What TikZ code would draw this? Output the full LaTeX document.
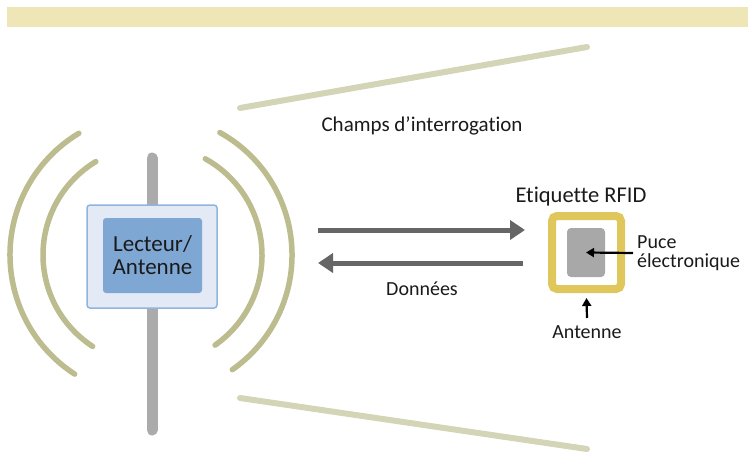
\documentclass[tikz,border=0pt]{standalone}
\usepackage{fontspec}
\setmainfont[Ligatures={NoCommon}]{Carlito}
\usetikzlibrary{arrows.meta}
\definecolor{bandc}{HTML}{EEE6B7}
\definecolor{fieldc}{HTML}{D4D4B7}
\definecolor{wavec}{HTML}{BCBC8F}
\definecolor{polec}{HTML}{ABABAB}
\definecolor{boxfill}{HTML}{E3E9F5}
\definecolor{boxdraw}{HTML}{8FB4E0}
\definecolor{innerfill}{HTML}{7FA7D4}
\definecolor{arrc}{HTML}{666666}
\definecolor{tagc}{HTML}{E0C75C}
\definecolor{chipc}{HTML}{A8A8A8}
\definecolor{txtc}{HTML}{1A1A1A}
\tikzset{
  fieldline/.style={draw=fieldc, line width=6pt, line cap=round},
  wave/.style={draw=wavec, line width=5.5pt, line cap=round},
  bigarrow/.style={draw=arrc, line width=5pt, -{Triangle[length=15pt,width=19pt]}},
  smallarrow/.style={draw=black, line width=2.2pt, -{Triangle[length=8pt,width=9pt]}},
  lbl/.style={text=txtc, inner sep=0pt},
}
\begin{document}
\begin{tikzpicture}[x=1pt,y=-1pt]
\useasboundingbox (0,0) rectangle (748,452);
% top band
\fill[bandc] (7,7) rectangle (748,27);
% field lines
\coordinate (f1a) at (240,108);
\coordinate (f1b) at (587,47);
\coordinate (f2a) at (240,398);
\coordinate (f2b) at (587,449);
\draw[fieldline] (f1a) -- (f1b);
\draw[fieldline] (f2a) -- (f2b);
% waves
\coordinate (c) at (152,255);
\draw[wave] (c) ++(-61:110) arc[start angle=-61, end angle=55, radius=110];
\draw[wave] (c) ++(-61:140) arc[start angle=-61, end angle=55, radius=140];
\draw[wave] (c) ++(123:109) arc[start angle=123, end angle=239, radius=109];
\draw[wave] (c) ++(123:142) arc[start angle=123, end angle=239, radius=142];
% pole
\coordinate (pt) at (152,158);
\coordinate (pb) at (152,430);
\draw[draw=polec, line width=11pt, line cap=round] (pt) -- (pb);
% reader
\node[draw=boxdraw, fill=boxfill, line width=1.5pt, rounded corners=3pt,
      minimum width=130pt, minimum height=103pt, inner sep=0pt] (reader) at (152,256.5) {};
\node[fill=innerfill, rounded corners=3pt, minimum width=99pt, minimum height=75pt,
      inner sep=0pt, align=center, text=txtc, font=\fontsize{23}{23}\selectfont] (inner) at (152.5,255.5) {Lecteur/\\Antenne};
% tag
\node[draw=tagc, line width=8pt, rounded corners=5pt, minimum width=69pt, minimum height=73pt, inner sep=0pt] (tag) at (586.5,252.5) {};
\node[fill=chipc, rounded corners=4pt, minimum width=38pt, minimum height=49pt, inner sep=0pt] (chip) at (586,252.5) {};
% labels
\node[lbl, anchor=base, font=\fontsize{21}{21}\selectfont] (champs) at (422,131.5) {Champs d’interrogation};
\node[lbl, anchor=base, font=\fontsize{20}{20}\selectfont] (donnees) at (422,295) {Données};
\node[lbl, anchor=base, font=\fontsize{22.5}{22.5}\selectfont] (etiq) at (581,202) {Etiquette RFID};
\node[lbl, anchor=base, font=\fontsize{20}{20}\selectfont] (ant) at (587,338) {Antenne};
\node[lbl, anchor=west, align=left, font=\fontsize{20}{18.5}\selectfont] (puce) at (637,253) {Puce\\électronique};
% big arrows
\coordinate (a1s) at (318,230);
\coordinate (a1e) at (525,230);
\coordinate (a2s) at (523,263);
\coordinate (a2e) at (318,263);
\draw[bigarrow] (a1s) -- (a1e);
\draw[bigarrow] (a2s) -- (a2e);
% small arrows
\coordinate (pucearr) at (633,253);
\coordinate (antarr) at (587,318);
\draw[smallarrow] (pucearr) -- (chip.center);
\draw[smallarrow] (antarr) -- ([yshift=-5pt]tag.south);
\end{tikzpicture}
\end{document}
